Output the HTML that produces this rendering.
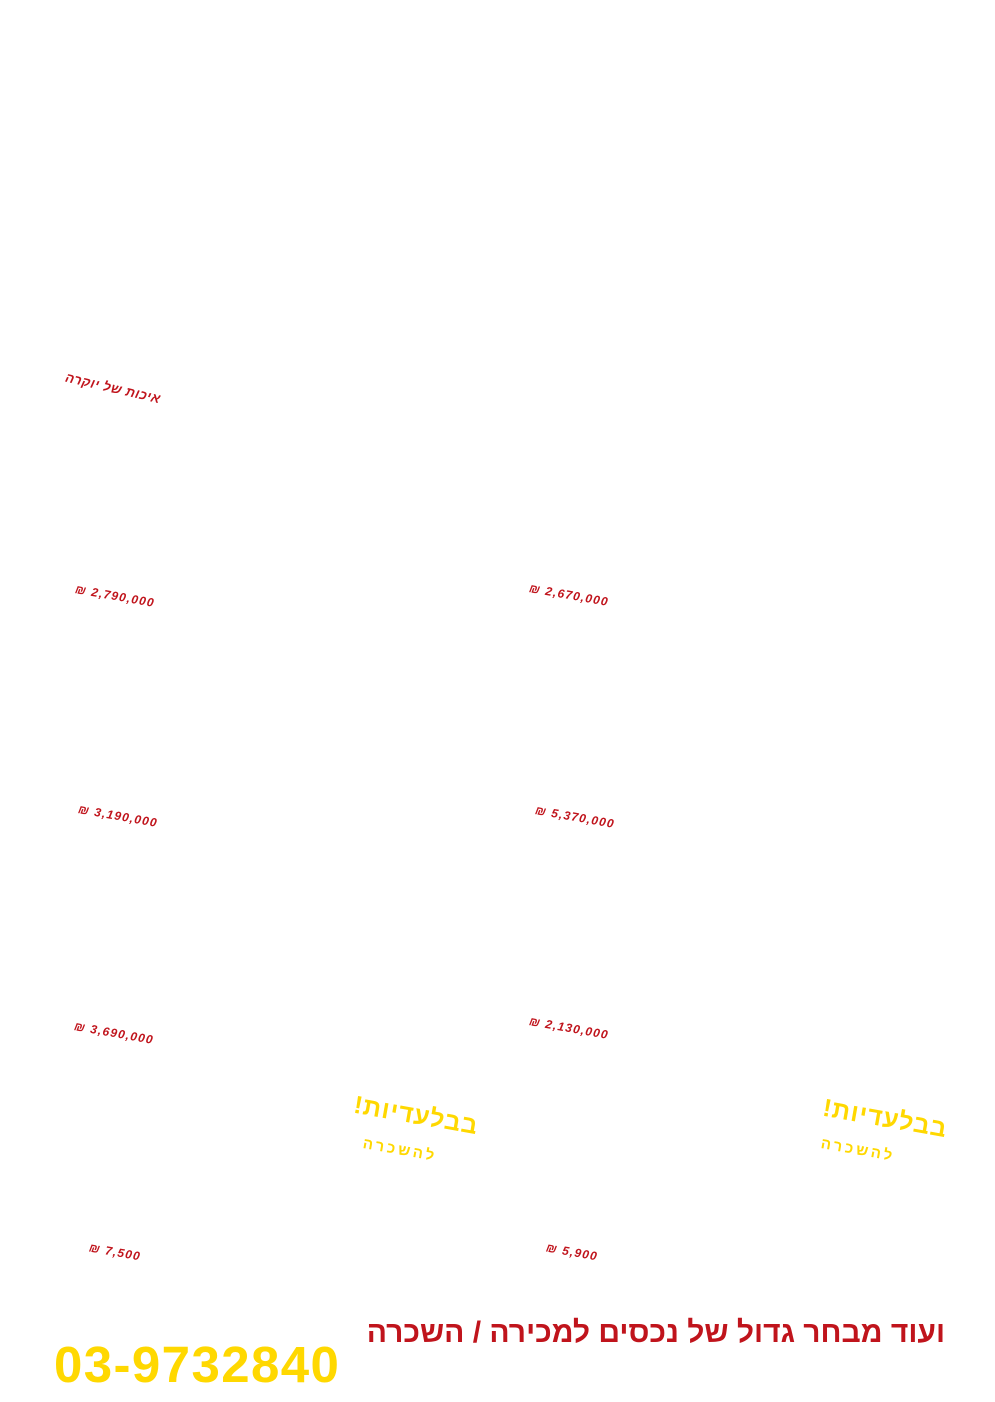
<!DOCTYPE html>
<html><head><meta charset="utf-8"><style>
html,body{margin:0;padding:0;background:#fff;}
body{width:995px;height:1402px;position:relative;overflow:hidden;font-family:"Liberation Sans","DejaVu Sans",sans-serif;}
.t{position:absolute;white-space:nowrap;transform:translate(-50%,-50%) rotate(10deg);font-weight:bold;}
.p{color:#c0141c;font-size:12px;font-style:italic;letter-spacing:1.2px;}
.y1{color:#ffd800;font-size:25px;letter-spacing:1px;}
.y2{color:#ffd800;font-size:15px;letter-spacing:3px;}
</style></head><body>
<div class="t p" style="left:113px;top:388px;font-size:13px;letter-spacing:0.5px;transform:translate(-50%,-50%) rotate(13deg);" dir="rtl">איכות של יוקרה</div>
<div class="t p" style="left:115px;top:596px;">₪ 2,790,000</div>
<div class="t p" style="left:569px;top:595px;">₪ 2,670,000</div>
<div class="t p" style="left:118px;top:816px;">₪ 3,190,000</div>
<div class="t p" style="left:575px;top:817px;">₪ 5,370,000</div>
<div class="t p" style="left:114px;top:1033px;">₪ 3,690,000</div>
<div class="t p" style="left:569px;top:1028px;">₪ 2,130,000</div>
<div class="t p" style="left:115px;top:1252px;">₪ 7,500</div>
<div class="t p" style="left:572px;top:1252px;">₪ 5,900</div>
<div class="t y1" style="left:416px;top:1116px;" dir="rtl">בבלעדיות!</div>
<div class="t y2" style="left:400px;top:1150px;" dir="rtl">להשכרה</div>
<div class="t y1" style="left:885px;top:1119px;" dir="rtl">בבלעדיות!</div>
<div class="t y2" style="left:858px;top:1150px;" dir="rtl">להשכרה</div>
<div style="position:absolute;right:50px;top:1314px;font-size:30px;font-weight:bold;color:#c0141c;white-space:nowrap;line-height:38px;" dir="rtl">ועוד מבחר גדול של נכסים למכירה / השכרה</div>
<div style="position:absolute;left:54px;top:1337px;font-size:51px;font-weight:bold;color:#ffd800;line-height:56px;white-space:nowrap;letter-spacing:1.4px;">03-9732840</div>
</body></html>
